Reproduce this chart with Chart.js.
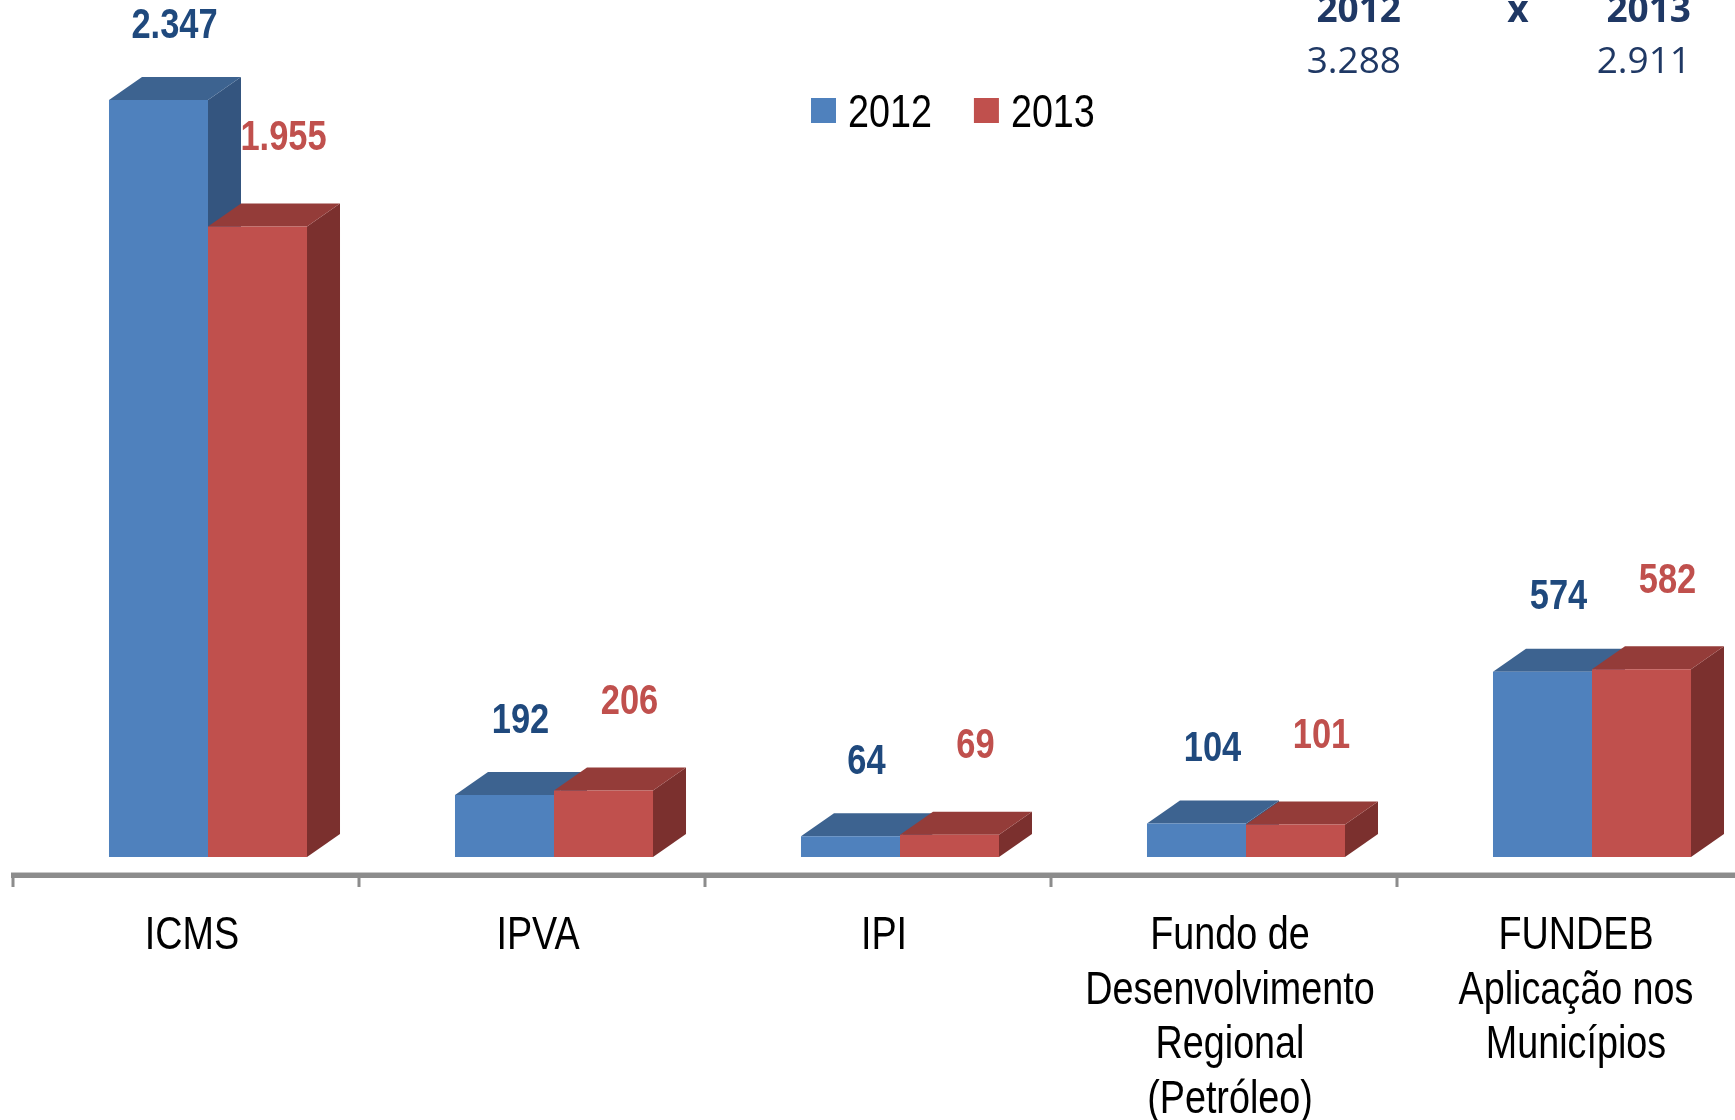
<!DOCTYPE html>
<html>
<head>
<meta charset="utf-8">
<script src="https://cdn.jsdelivr.net/npm/chart.js@4.4.1/dist/chart.umd.min.js"></script>
<style>
    html, body { margin: 0; padding: 0; background: #fff; overflow: hidden; }
    #wrap { width: 1800px; height: 1120px; }
</style>
</head>
<body>
<div id="wrap"><canvas id="chart" width="1800" height="1120"></canvas></div>
<script>
const categories = [
    ['ICMS'],
    ['IPVA'],
    ['IPI'],
    ['Fundo de', 'Desenvolvimento', 'Regional', '(Petróleo)'],
    ['FUNDEB', 'Aplicação nos', 'Municípios']
];
const seriesNames = ['2012', '2013'];
const values2012 = [2347, 192, 64, 104, 574];
const values2013 = [1955, 206, 69, 101, 582];
const totalsHeader = ['2012', 'x', '2013'];
const totals = ['3.288', '2.911'];

// no Arial Narrow here: squeeze Liberation Sans instead
const SANS = "'Liberation Sans', Arial, sans-serif";
const SQUEEZE = 0.82;
const DX = 33, DY = 23;          // 3d depth of the bars
const FLOOR_DX = -22, FLOOR_DY = 18;

const fmt = v => String(v).replace(/\B(?=(\d{3})+(?!\d))/g, '.');

function narrowText(ctx, text, x, y) {
    ctx.save();
    ctx.translate(x, y);
    ctx.scale(SQUEEZE, 1);
    ctx.fillText(text, 0, 0);
    ctx.restore();
}

// side + top faces, drawn before the fronts so fronts cover them
const bar3d = {
    id: 'bar3d',
    beforeDatasetsDraw(chart) {
        const ctx = chart.ctx;
        chart.data.datasets.forEach((ds, i) => {
            chart.getDatasetMeta(i).data.forEach(bar => {
                const l = bar.x - bar.width / 2, r = bar.x + bar.width / 2;
                const t = bar.y, b = bar.base;
                ctx.save();
                ctx.fillStyle = ds.sideColor;
                ctx.beginPath();
                ctx.moveTo(r, t);
                ctx.lineTo(r + DX, t - DY);
                ctx.lineTo(r + DX, b - DY);
                ctx.lineTo(r, b);
                ctx.closePath();
                ctx.fill();
                ctx.fillStyle = ds.topColor;
                ctx.beginPath();
                ctx.moveTo(l, t);
                ctx.lineTo(l + DX, t - DY);
                ctx.lineTo(r + DX, t - DY);
                ctx.lineTo(r, t);
                ctx.closePath();
                ctx.fill();
                ctx.restore();
            });
        });
    },
    afterDatasetsDraw(chart) {
        const ctx = chart.ctx;
        ctx.save();
        ctx.textAlign = 'center';
        ctx.textBaseline = 'middle';
        ctx.font = 'bold 42px ' + SANS;
        chart.data.datasets.forEach((ds, i) => {
            ctx.fillStyle = ds.labelColor;
            chart.getDatasetMeta(i).data.forEach((bar, j) => {
                narrowText(ctx, fmt(ds.data[j]), bar.x + ds.labelShift, bar.y - DY - ds.labelLift);
            });
        });
        ctx.restore();
    },
    afterDraw(chart) {
        const ctx = chart.ctx;
        const xs = chart.scales.x;
        const area = chart.chartArea;
        const half = (area.right - area.left) / categories.length / 2;
        const floorY = area.bottom + FLOOR_DY;

        // floor / axis line
        ctx.save();
        ctx.fillStyle = '#8c8c8c';
        ctx.fillRect(area.left + FLOOR_DX - 2, floorY - 2, chart.width, 5);
        ctx.fillStyle = '#c8c8c8';
        ctx.fillRect(area.left + FLOOR_DX - 2, floorY - 3, chart.width, 1);
        ctx.fillStyle = '#8c8c8c';
        for (let i = 0; i <= categories.length; i++) {
            const x = xs.getPixelForTick(Math.min(i, categories.length - 1)) + (i < categories.length ? -half : half) + FLOOR_DX;
            ctx.fillRect(x - 1.5, floorY, 3, 12);
        }

        // category labels
        ctx.fillStyle = '#000';
        ctx.font = '46px ' + SANS;
        ctx.textAlign = 'center';
        ctx.textBaseline = 'alphabetic';
        categories.forEach((lines, i) => {
            const cx = xs.getPixelForTick(i) - 16;
            lines.forEach((line, k) => {
                narrowText(ctx, line, cx, area.bottom + 92 + k * 54.5);
            });
        });

        // legend
        ctx.textAlign = 'left';
        let lx = 811;
        chart.data.datasets.forEach(ds => {
            ctx.fillStyle = ds.backgroundColor;
            ctx.fillRect(lx, 98, 25, 25);
            ctx.fillStyle = '#000';
            narrowText(ctx, ds.label, lx + 37, 127);
            lx += 37 + ctx.measureText(ds.label).width * SQUEEZE + 42;
        });

        // totals block top right
        ctx.fillStyle = '#1f3864';
        ctx.textAlign = 'right';
        ctx.font = "bold 37px 'Open Sans', 'Noto Sans', sans-serif";
        ctx.fillText(totalsHeader[0], 1401, 22);
        ctx.fillText(totalsHeader[2], 1691, 22);
        ctx.textAlign = 'center';
        ctx.fillText(totalsHeader[1], 1518, 22);
        ctx.textAlign = 'right';
        ctx.font = "37px 'Open Sans', 'Noto Sans', sans-serif";
        ctx.fillText(totals[0], 1401, 73);
        ctx.fillText(totals[1], 1691, 73);
        ctx.restore();
    }
};

const ctx = document.getElementById('chart').getContext('2d');
new Chart(ctx, {
    type: 'bar',
    data: {
        labels: categories,
        datasets: [{
            label: seriesNames[0],
            data: values2012,
            backgroundColor: '#4f81bd',
            topColor: '#3d6390',
            sideColor: '#34557f',
            labelColor: '#1f497d',
            labelShift: 16,
            labelLift: 51
        }, {
            label: seriesNames[1],
            data: values2013,
            backgroundColor: '#c0504d',
            topColor: '#943c39',
            sideColor: '#7b302e',
            labelColor: '#c0504d',
            labelShift: 26,
            labelLift: 65
        }]
    },
    options: {
        responsive: false,
        devicePixelRatio: 1,
        animation: false,
        layout: { padding: { left: 35, right: 35, top: 18.4, bottom: 0 } },
        datasets: {
            bar: { barPercentage: 1.0, categoryPercentage: 0.5723 }
        },
        plugins: {
            legend: { display: false },
            tooltip: { enabled: false }
        },
        scales: {
            x: {
                grid: { display: false, drawTicks: false },
                border: { display: false },
                ticks: { display: false },
                afterFit(scale) { scale.height = 263; }
            },
            y: {
                display: false,
                min: 0,
                max: 2600
            }
        }
    },
    plugins: [bar3d]
});
</script>
</body>
</html>
